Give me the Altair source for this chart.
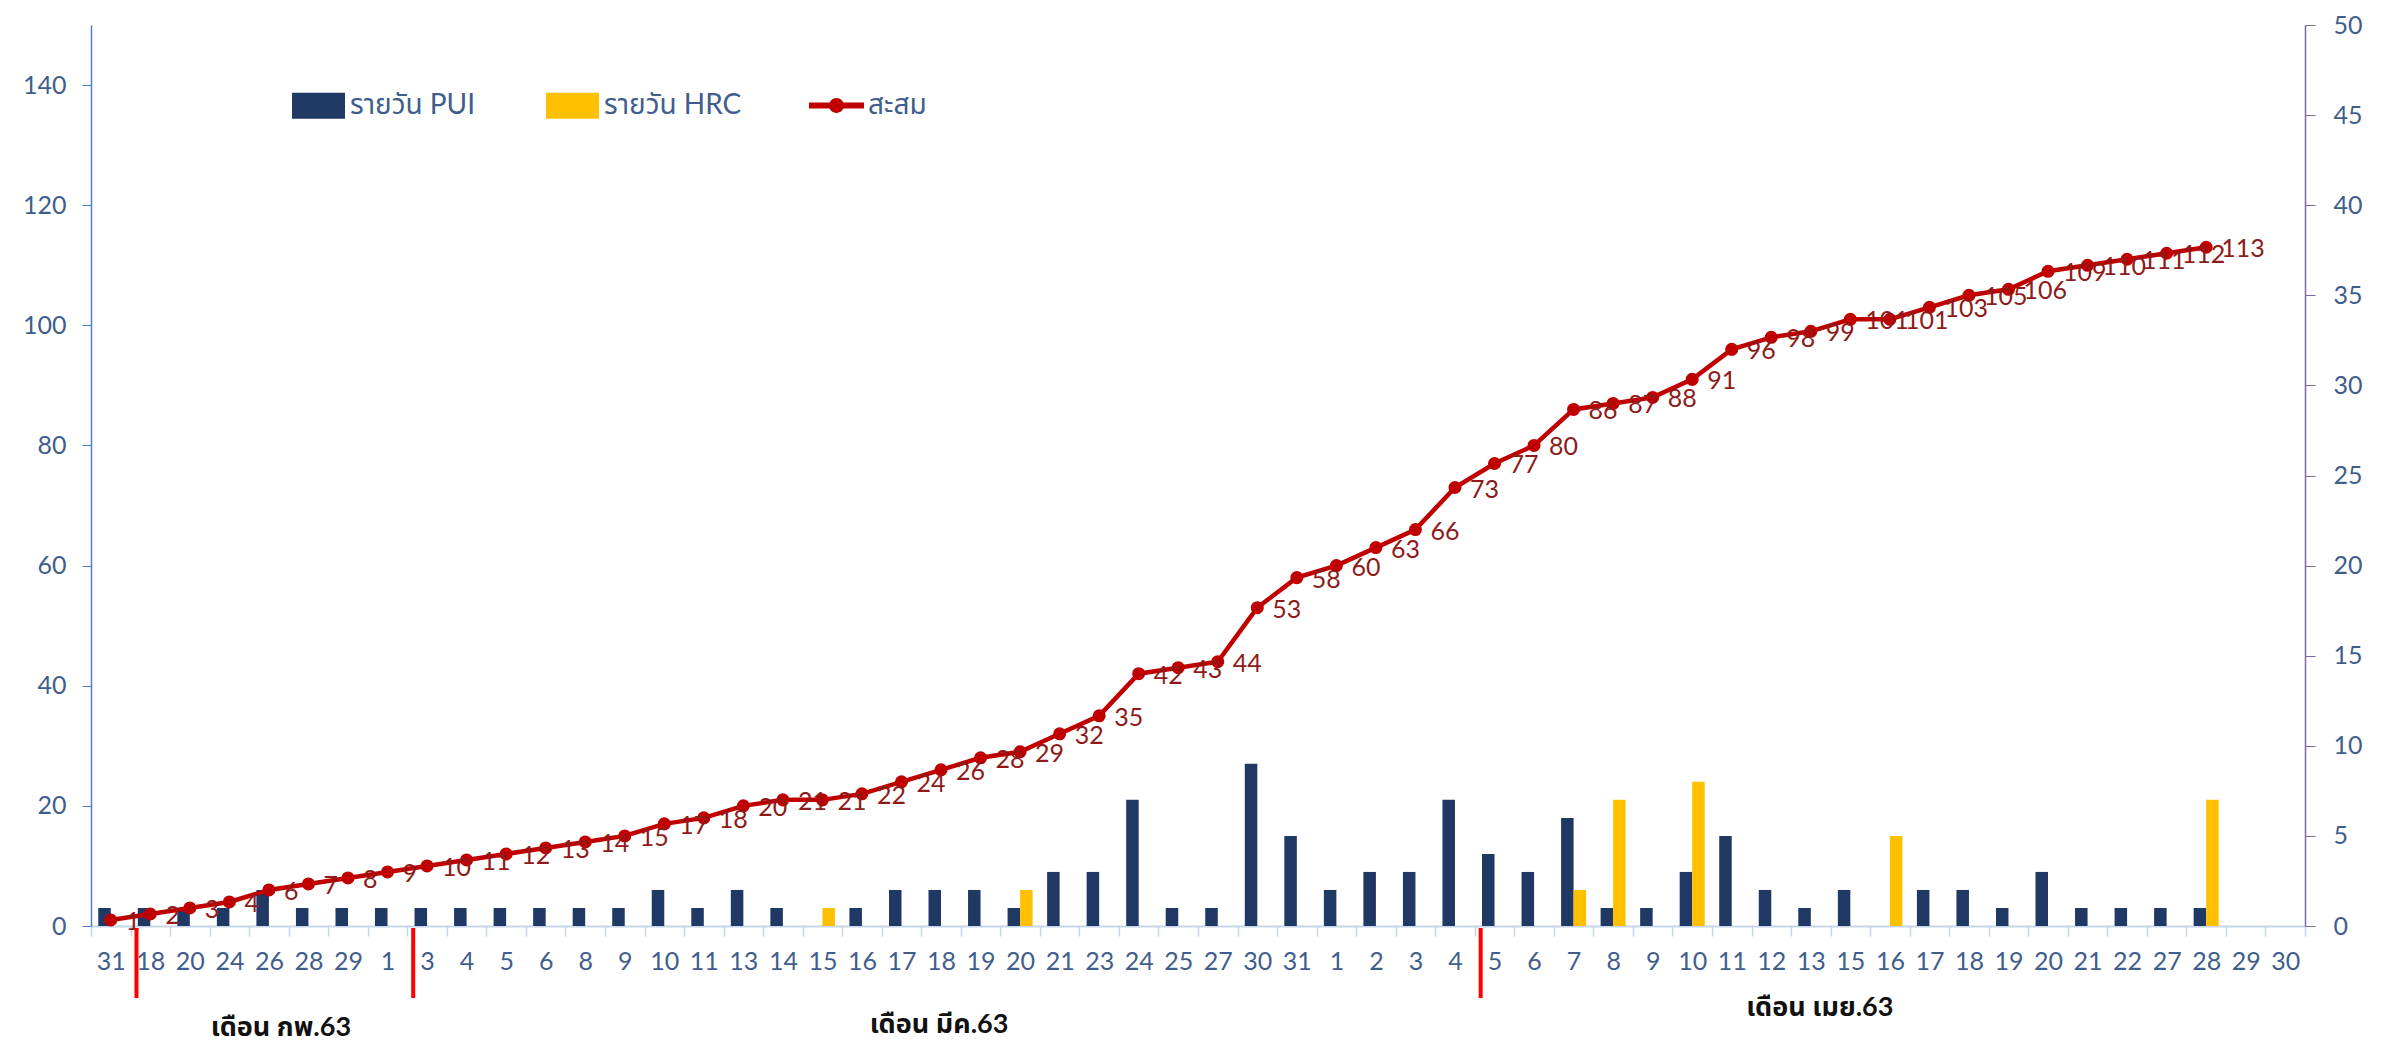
import altair as alt
import pandas as pd

# ---- data ----
days = ["31", "18", "20", "24", "26", "28", "29",
        "1", "3", "4", "5", "6", "8", "9", "10", "11", "13", "14", "15", "16", "17", "18", "19", "20", "21", "23", "24", "25", "27", "30", "31",
        "1", "2", "3", "4", "5", "6", "7", "8", "9", "10", "11", "12", "13", "15", "16", "17", "18", "19", "20", "21", "22", "27", "28", "29", "30"]

pui = [1, 1, 1, 1, 2, 1, 1,
       1, 1, 1, 1, 1, 1, 1, 2, 1, 2, 1, 0, 1, 2, 2, 2, 1, 3, 3, 7, 1, 1, 9, 5,
       2, 3, 3, 7, 4, 3, 6, 1, 1, 3, 5, 2, 1, 2, 0, 2, 2, 1, 3, 1, 1, 1, 1, 0, 0]

hrc = [0, 0, 0, 0, 0, 0, 0,
       0, 0, 0, 0, 0, 0, 0, 0, 0, 0, 0, 1, 0, 0, 0, 0, 2, 0, 0, 0, 0, 0, 0, 0,
       0, 0, 0, 0, 0, 0, 2, 7, 0, 8, 0, 0, 0, 0, 5, 0, 0, 0, 0, 0, 0, 0, 7, 0, 0]

cum = [1, 2, 3, 4, 6, 7, 8,
       9, 10, 11, 12, 13, 14, 15, 17, 18, 20, 21, 21, 22, 24, 26, 28, 29, 32, 35, 42, 43, 44, 53, 58,
       60, 63, 66, 73, 77, 80, 86, 87, 88, 91, 96, 98, 99, 101, 101, 103, 105, 106, 109, 110, 111, 112, 113]

series_names = ["รายวัน PUI", "รายวัน HRC"]
line_name = "สะสม"
month_names = ["เดือน กพ.63", "เดือน มีค.63", "เดือน เมย.63"]
month_anchor = [4, 21, 43]
separator_idx = [1, 8, 35]

# ---- tables ----
keys = [f"{i}|{d}" for i, d in enumerate(days)]

bar_rows = []
for i, k in enumerate(keys):
    bar_rows.append({"key": k, "series": series_names[0], "value": pui[i]})
    bar_rows.append({"key": k, "series": series_names[1], "value": hrc[i]})
bars_df = pd.DataFrame(bar_rows)

line_df = pd.DataFrame({"key": keys[:len(cum)], "cum": cum, "series": line_name})
sep_df = pd.DataFrame({"key": [keys[i] for i in separator_idx]})

FONT = "Lato, 'Noto Sans Thai', 'Noto Sans', sans-serif"
LABEL_COLOR = "#3F5E8C"
NAVY = "#1F3864"
GOLD = "#FFC000"
RED = "#C00000"

TOP = 17
W, H = 2214, 901

xscale = alt.Scale(domain=keys, paddingInner=0, paddingOuter=0)
xaxis = alt.Axis(title=None, labelExpr="split(datum.value, '|')[1]", tickBand="extent",
                 labelAngle=0, domainColor="#C5D5EA", domainWidth=2, tickColor="#C5D5EA",
                 tickWidth=1.5, tickSize=10, labelFontSize=25, labelColor=LABEL_COLOR,
                 labelPadding=13, labelFont=FONT, grid=False)


def X(**kw):
    return alt.X("key:N", scale=xscale, axis=xaxis, **kw)


left_y = alt.Scale(domain=[0, 150], nice=False)
left_axis = alt.Axis(orient="left", title=None, values=list(range(0, 141, 20)), grid=False,
                     domainColor="#4F81C7", domainWidth=1.5, tickColor="#4F81C7", tickSize=9,
                     labelPadding=16, labelFontSize=25, labelColor=LABEL_COLOR, labelFont=FONT)
right_axis = alt.Axis(orient="right", title=None, values=list(range(0, 51, 5)), grid=False,
                      domainColor="#7E6A9E", domainWidth=1.5, tickColor="#7E6A9E", tickSize=10,
                      labelPadding=18, labelFontSize=25, labelColor=LABEL_COLOR, labelFont=FONT)

bars = alt.Chart(bars_df).mark_bar().encode(
    x=X(),
    xOffset=alt.XOffset("series:N", scale=alt.Scale(domain=series_names, paddingInner=0, paddingOuter=0.58)),
    y=alt.Y("value:Q", scale=alt.Scale(domain=[0, 50], nice=False), axis=right_axis, stack=None),
    color=alt.Color("series:N", scale=alt.Scale(domain=series_names, range=[NAVY, GOLD]),
                    legend=alt.Legend(title=None, orient="none", direction="horizontal",
                                      legendX=201, legendY=54, padding=0,
                                      symbolType="M-1,-0.49H1V0.49H-1Z", symbolSize=2809,
                                      symbolStrokeWidth=0, labelFontSize=28, labelFont=FONT,
                                      labelColor=LABEL_COLOR, labelOffset=5, columnPadding=70)),
)

line = alt.Chart(line_df).mark_line(color=RED, strokeWidth=4.5).encode(
    x=X(), y=alt.Y("cum:Q", scale=left_y, axis=left_axis))

points = alt.Chart(line_df).mark_circle(size=170, opacity=1).encode(
    x=X(), y=alt.Y("cum:Q", scale=left_y, axis=left_axis),
    color=alt.Color("series:N", scale=alt.Scale(domain=[line_name], range=[RED]),
                    legend=alt.Legend(title=None, orient="none", legendX=718, legendY=53, padding=0,
                                      symbolType="M-1,-0.11H1V0.11H-1Z M0.27,0A0.27,0.27,0,1,1,-0.27,0A0.27,0.27,0,1,1,0.27,0Z",
                                      symbolSize=3025, symbolStrokeWidth=0, labelFontSize=28,
                                      labelFont=FONT, labelColor=LABEL_COLOR, labelOffset=4)))

labels = alt.Chart(line_df).mark_text(align="left", baseline="middle", dx=15, dy=2,
                                      fontSize=25, font=FONT, color="#8E1A1A").encode(
    x=X(), y=alt.Y("cum:Q", scale=left_y, axis=left_axis), text="cum:Q")

left_layer = alt.layer(line, points, labels)

seps = alt.Chart(sep_df).mark_rule(color="#FF0000", strokeWidth=4).encode(
    x=X(bandPosition=0.15), y=alt.value(H + 2), y2=alt.value(H + 72))

month_y = [H + 102, H + 99, H + 82]
month_dx = [12, -2, 9]
month_layers = []
for name, idx, yy, ddx in zip(month_names, month_anchor, month_y, month_dx):
    mdf = pd.DataFrame({"key": [keys[idx]], "label": [name]})
    month_layers.append(
        alt.Chart(mdf).mark_text(fontSize=27, font=FONT, fontWeight="bold", color="#111111",
                                 baseline="middle", align="center", dx=ddx).encode(
            x=X(), y=alt.value(yy), text="label:N"))

chart = alt.layer(bars, left_layer, seps, *month_layers).resolve_scale(
    y="independent", color="independent"
).properties(
    width=W, height=H,
    autosize=alt.AutoSizeParams(type="none"),
    padding={"left": 83, "top": TOP, "right": 70, "bottom": 116},
    background="white",
).configure_view(stroke=None)

chart.save("out.html", embed_options={"renderer": "svg", "actions": False})
